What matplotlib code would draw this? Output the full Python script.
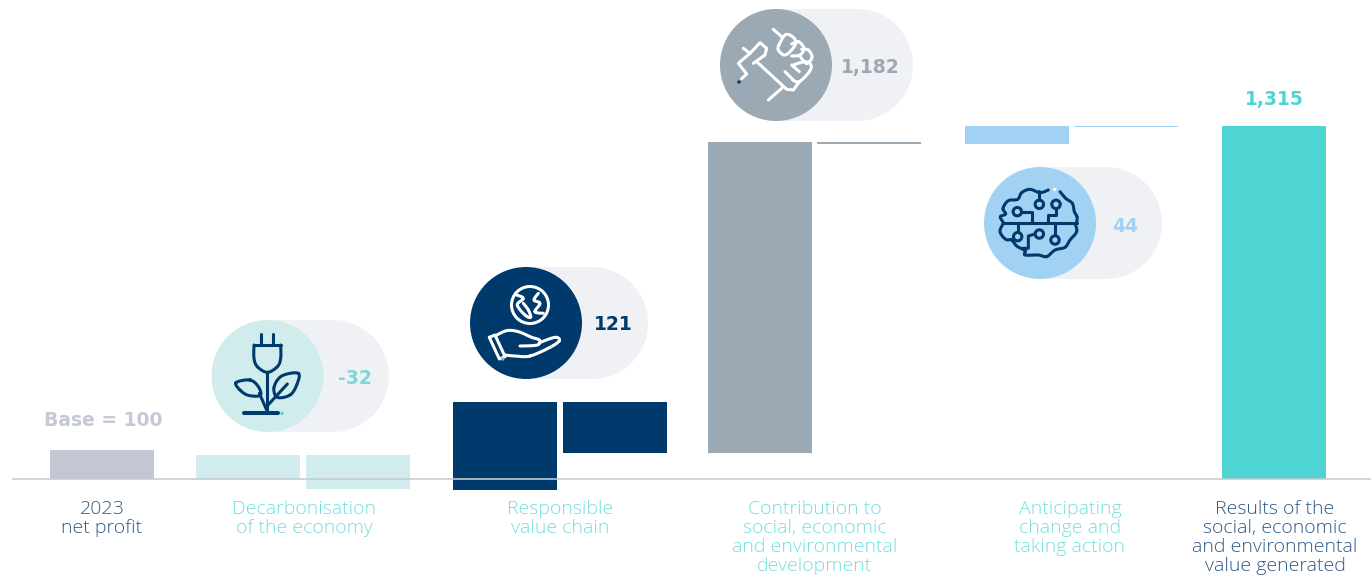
import numpy as np
import matplotlib
matplotlib.use("Agg")
import matplotlib.pyplot as plt
from matplotlib.patches import Circle, Rectangle

categories = ["2023\nnet profit", "Decarbonisation\nof the economy", "Responsible\nvalue chain",
              "Contribution to\nsocial, economic\nand environmental\ndevelopment",
              "Anticipating\nchange and\ntaking action",
              "Results of the\nsocial, economic\nand environmental\nvalue generated"]
value_labels = ["Base = 100", "-32", "121", "1,182", "44", "1,315"]

# stated values; the columns are drawn at their own proportions, not on a shared scale
values = [100, -32, 121, 1182, 44, 1315]
column_scale = [0.29, 1.0625, 0.727, 0.263, 0.409, 0.2684]
starts = [0, 24, -11, 26, 335, 0]

# unlabelled companion bars of each step
link_bottom = [0, 26, 335, 352]
link_top = [24, 77, 337, 353]

NAVY = "#003a6c"
TEAL = "#4fd4d4"
PALE = "#d0ecec"
GREY = "#9ba9b4"
SKY = "#a2d2f3"
LILAC = "#c3c7d4"
PILL = "#f0f1f5"
TEXT_DARK = "#2f5a88"
TEXT_TEAL = "#74dede"

bar_x = [102, 358, 505, 760, 1017, 1274]
link_x = [248, 615, 869, 1126]
bar_colors = [LILAC, PALE, NAVY, GREY, SKY, TEAL]
link_colors = [PALE, NAVY, GREY, SKY]
label_x = [102, 304, 560, 815, 1070, 1275]
label_colors = [TEXT_DARK, TEXT_TEAL, TEXT_TEAL, TEXT_TEAL, TEXT_TEAL, TEXT_DARK]

fig = plt.figure(figsize=(13.71, 5.75), dpi=100)
ax = fig.add_axes([0, 0, 1, 1])
ax.set_xlim(0, 1371)
ax.set_ylim(-96, 479)
ax.axis("off")

heights = [v * s for v, s in zip(values, column_scale)]
ax.bar(bar_x, heights, width=104, bottom=starts, color=bar_colors, zorder=2)
link_heights = [t - b for t, b in zip(link_top, link_bottom)]
ax.bar(link_x, link_heights, width=104, bottom=link_bottom, color=link_colors, zorder=2)

ax.plot([12, 1371], [0, 0], color="#c4ccd2", lw=1.3, alpha=0.9, zorder=3, solid_capstyle="butt")

for x, text, color in zip(label_x, categories, label_colors):
    ax.text(x, -21, text, ha="center", va="top", color=color, fontsize=14,
            family="Open Sans", fontweight="light", linespacing=1.06)


def pill(cx, cy, right, fill):
    r = 56
    ax.add_patch(Rectangle((cx, cy - r), right - r - cx, 2 * r, fc=PILL, ec="none", zorder=4))
    ax.add_patch(Circle((right - r, cy), r, fc=PILL, ec="none", zorder=4))
    ax.add_patch(Circle((cx, cy), r, fc=fill, ec="none", zorder=5))


def smooth(points, closed=False):
    # catmull-rom through the given points
    p = np.array(points, dtype=float)
    if closed:
        p = np.vstack([p[-1], p, p[0], p[1]])
    else:
        p = np.vstack([p[0], p, p[-1]])
    out = []
    for i in range(1, len(p) - 2):
        t = np.linspace(0, 1, 12)[:, None]
        out.append(0.5 * (2 * p[i] + (p[i + 1] - p[i - 1]) * t
                          + (2 * p[i - 1] - 5 * p[i] + 4 * p[i + 1] - p[i + 2]) * t ** 2
                          + (3 * p[i] - p[i - 1] - 3 * p[i + 1] + p[i + 2]) * t ** 3))
    return np.vstack(out)


def stroke(origin, points, color, curved=False, closed=False, lw=2.2):
    # icon points are in 1/3 px, y pointing down, relative to origin
    ox, oy = origin
    pts = [(ox + x / 3, 479 - (oy + y / 3)) for x, y in points]
    if curved:
        pts = smooth(pts, closed)
    elif closed:
        pts = pts + pts[:1]
    pts = np.array(pts)
    ax.plot(pts[:, 0], pts[:, 1], color=color, lw=lw, zorder=6,
            solid_capstyle="round", solid_joinstyle="round")


def dot(origin, x, y, r, color, ring=False):
    ox, oy = origin
    ax.add_patch(Circle((ox + x / 3, 479 - (oy + y / 3)), r, zorder=6,
                        fc="none" if ring else color, ec=color if ring else "none",
                        lw=2.2 if ring else 0))


# plug growing from a plant
pill(267.5, 103, 389, PALE)
o = (200, 310)
stroke(o, [(184, 72), (184, 105)], NAVY)
stroke(o, [(219, 72), (219, 105)], NAVY)
stroke(o, [(162, 105), (242, 105)], NAVY)
stroke(o, [(162, 105), (162, 145), (172, 170), (202, 187), (232, 170), (242, 145), (242, 105)], NAVY, curved=True)
stroke(o, [(202, 187), (202, 310)], NAVY)
stroke(o, [(133, 310), (235, 310)], NAVY, lw=2.9)
stroke(o, [(108, 218), (150, 210), (175, 230), (181, 256), (145, 256), (120, 240)], NAVY, curved=True, closed=True)
stroke(o, [(178, 250), (200, 300)], NAVY)
stroke(o, [(295, 190), (245, 198), (222, 232), (232, 262), (270, 255), (290, 225)], NAVY, curved=True, closed=True)
stroke(o, [(204, 285), (262, 222)], NAVY)
dot(o, 246, 310, 1.7, TEAL)

# hand holding the globe
pill(526, 156, 648, NAVY)
o = (460, 260)
dot(o, 210, 135, 18.5, "white", ring=True)
stroke(o, [(170, 105), (190, 115), (172, 135), (195, 165), (212, 172), (205, 150), (190, 130)], "white", curved=True)
stroke(o, [(235, 100), (222, 120), (240, 130), (225, 155), (250, 160)], "white", curved=True)
stroke(o, [(88, 232), (105, 225), (135, 290), (118, 297)], "white", closed=True)
stroke(o, [(105, 228), (140, 212), (175, 215), (215, 232), (238, 240), (232, 255), (180, 258)], "white", curved=True)
stroke(o, [(238, 248), (285, 232), (298, 242), (270, 262), (210, 288), (165, 288), (135, 285)], "white", curved=True)
dot(o, 128, 297, 1.7, TEAL)

# clasped hands
pill(776, 414, 913, GREY)
o = (710, 0)
stroke(o, [(190, 88), (215, 110)], "white")
stroke(o, [(207, 135), (225, 105), (245, 108), (258, 128), (240, 155), (222, 165), (205, 150)], "white", curved=True, closed=True)
stroke(o, [(245, 132), (265, 125), (282, 145), (270, 165), (245, 168)], "white", curved=True)
stroke(o, [(275, 148), (295, 150), (306, 172), (290, 190), (272, 172)], "white", curved=True)
stroke(o, [(250, 195), (285, 185), (303, 195), (298, 215), (268, 245), (248, 240)], "white", curved=True)
stroke(o, [(225, 215), (250, 240)], "white")
stroke(o, [(245, 195), (268, 215)], "white")
stroke(o, [(140, 185), (230, 268), (250, 270), (268, 245)], "white")
stroke(o, [(130, 190), (165, 165), (170, 145), (150, 128), (120, 160), (100, 145)], "white")
stroke(o, [(120, 160), (85, 190), (110, 222), (95, 236)], "white")
stroke(o, [(215, 265), (175, 300)], "white")
dot(o, 87, 246, 1.7, NAVY)

# circuit brain
pill(1040, 256, 1162, SKY)
o = (975, 160)
stroke(o, [(85, 188), (305, 188)], NAVY)
stroke(o, [(220, 90), (195, 98), (165, 88), (140, 98), (128, 118), (100, 122), (84, 145), (92, 162), (76, 170), (85, 188)], NAVY, curved=True)
stroke(o, [(255, 95), (272, 115), (292, 130), (298, 155), (306, 170), (305, 188)], NAVY, curved=True)
stroke(o, [(85, 190), (75, 215), (92, 238), (110, 240), (125, 258), (150, 272), (150, 285), (190, 285), (215, 290), (240, 270), (270, 262), (285, 240), (305, 215), (300, 190)], NAVY, curved=True)
for nx, ny in [(127, 155), (193, 133), (243, 133), (128, 230), (193, 222), (240, 240)]:
    dot(o, nx, ny, 4.2, NAVY, ring=True)
stroke(o, [(140, 155), (170, 155), (170, 188)], NAVY)
stroke(o, [(193, 92), (193, 120)], NAVY)
stroke(o, [(243, 146), (243, 165), (218, 165), (218, 188)], NAVY)
stroke(o, [(128, 188), (128, 217)], NAVY)
stroke(o, [(240, 188), (240, 226)], NAVY)
stroke(o, [(180, 222), (160, 228), (160, 265), (140, 265)], NAVY)
dot(o, 239, 88, 1.7, "white")

value_x = [103, 355, 613, 870, 1125, 1274]
value_y = [60.5, 103, 156, 414, 255, 382]
value_colors = ["#c5c8d6", "#7fd6d6", NAVY, GREY, SKY, TEAL]
for x, y, text, color in zip(value_x, value_y, value_labels, value_colors):
    ax.text(x, y, text, ha="center", va="center_baseline", color=color, fontsize=13.5,
            family="DejaVu Sans", fontweight="bold", zorder=7)

fig.savefig("out.png", dpi=100)
